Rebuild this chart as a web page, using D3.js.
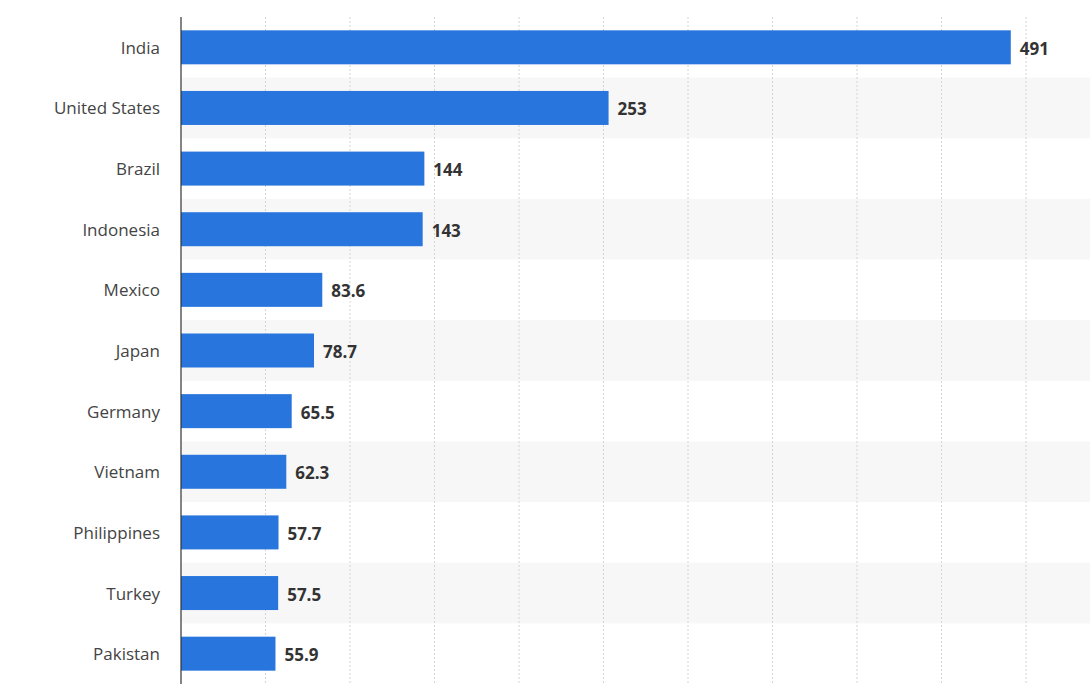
<!DOCTYPE html>
<html><head><meta charset="utf-8">
<script src="https://cdn.jsdelivr.net/npm/d3@7"></script>
<style>body{margin:0;background:#fff;font-family:"Open Sans",sans-serif;}</style>
</head><body>
<div id="chart"></div>
<script>
const countries = ["India","United States","Brazil","Indonesia","Mexico","Japan","Germany","Vietnam","Philippines","Turkey","Pakistan"];
const values = [491,253,144,143,83.6,78.7,65.5,62.3,57.7,57.5,55.9];
const labels = ["491","253","144","143","83.6","78.7","65.5","62.3","57.7","57.5","55.9"];
const tickValues = [50,100,150,200,250,300,350,400,450,500,550];

const width = 1090, height = 685;
const svg = d3.select('#chart').append('svg').attr('width', width).attr('height', height);

const x = d3.scaleLinear().domain([0, 550]).range([181, 181 + 550 * 1.69]);
const y = d3.scaleBand().domain(countries).range([17, 684]).paddingInner(0).paddingOuter(0);

// alternating row bands
svg.selectAll('.band').data(countries.filter((d, i) => i % 2 === 1)).enter().append('rect')
    .attr('x', 181).attr('width', width - 181)
    .attr('y', d => y(d)).attr('height', y.bandwidth())
    .attr('fill', '#f7f7f7');

// gridlines
svg.selectAll('.grid').data(tickValues).enter().append('line')
    .attr('x1', d => x(d)).attr('x2', d => x(d))
    .attr('y1', 17).attr('y2', 684)
    .attr('stroke', '#d4d4d4').attr('stroke-dasharray', '2,2');

// bars
const barH = 34;
svg.selectAll('.bar').data(countries).enter().append('rect')
    .attr('x', x(0))
    .attr('y', d => y(d) + (y.bandwidth() - barH) / 2)
    .attr('width', (d, i) => x(values[i]) - x(0))
    .attr('height', barH)
    .attr('fill', '#2876dd');

// axis line
svg.append('line').attr('x1', 181).attr('x2', 181).attr('y1', 17).attr('y2', 684)
    .attr('stroke', '#333').attr('stroke-width', 1.2);

// category labels
svg.selectAll('.cat').data(countries).enter().append('text')
    .attr('x', 160).attr('y', d => y(d) + y.bandwidth() / 2)
    .attr('text-anchor', 'end').attr('dominant-baseline', 'central')
    .attr('font-size', 17).attr('fill', '#444').text(d => d);

// value labels
svg.selectAll('.val').data(countries).enter().append('text')
    .attr('x', (d, i) => x(values[i]) + 9).attr('y', d => y(d) + y.bandwidth() / 2 + 1)
    .attr('dominant-baseline', 'central')
    .attr('font-size', 17).attr('font-weight', 'bold').attr('fill', '#333')
    .text((d, i) => labels[i]);
</script>
</body></html>
